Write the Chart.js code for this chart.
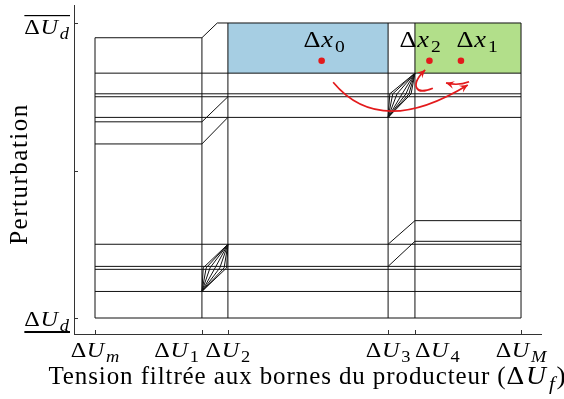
<!DOCTYPE html>
<html>
<head>
<meta charset="utf-8">
<script src="https://cdn.jsdelivr.net/npm/chart.js@4/dist/chart.umd.min.js"></script>
<style>
  body { margin: 0; background: #fff; }
  #wrap { width: 564px; height: 399px; }
</style>
</head>
<body>
<div id="wrap"><canvas id="myChart" width="564" height="399"></canvas></div>
<script>
// voltage axis: dUm = 0 ... dUM = 100
const xTickValues = [0, 25.1, 31.2, 68.8, 75.1, 100];
const xTickSubs = ["m", "1", "2", "3", "4", "M"];
const xTickAlign = ["center", "right", "center", "center", "left", "center"];
// perturbation axis: lower bound 0, upper bound 1
const yTickValues = [0, 0.5, 1];

// horizontal trajectories
const levels     = [0.95, 0.83, 0.76, 0.75, 0.68, 0.665, 0.59, 0.33, 0.26, 0.25, 0.175, 0.165, 0.09, 0, 1];
const levelStart = [0,    0,    0,    0,    0,    0,     0,    75.1, 75.1, 0,    0,     0,     0,    0, 28.7];
const levelEnd   = [25.1, 100,  100,  100,  100,  25.1,  25.1, 100,  100,  100,  100,   100,   100,  100, 100];

// vertical borders of each voltage zone
const vertX   = [0, 25.1, 31.2, 68.8, 75.1, 100];
const vertTop = [0.95, 0.95, 1, 1, 1, 1];

// jumps between zones
const jumpFromX = [25.1, 25.1, 25.1, 68.8, 68.8];
const jumpFromY = [0.95, 0.665, 0.59, 0.25, 0.175];
const jumpToX   = [28.7, 31.2, 31.2, 75.1, 75.1];
const jumpToY   = [1, 0.75, 0.68, 0.33, 0.26];

// bundles of transitions (lens shapes)
const fan1Bottom = [25.1, 0.09];
const fan1Top = [31.2, 0.25];
const fan1MidX = [25.4, 26.1, 27.0, 28.2, 29.3, 30.3, 30.9];
const fan1MidY = 0.17;
const fan2Bottom = [68.8, 0.68];
const fan2Top = [75.1, 0.83];
const fan2MidX = [69.2, 69.9, 70.9, 72.1, 73.0, 73.7, 74.2];
const fan2MidY = 0.76;

// operating zones
const zoneX0 = [31.2, 75.1];
const zoneX1 = [68.8, 100];
const zoneY0 = [0.83, 0.83];
const zoneY1 = [1, 1];
const zoneColors = ["#a6cee3", "#b2df8a"];

// operating points
const pointNames = ["0", "2", "1"];
const pointX = [53.2, 78.5, 85.9];
const pointY = [0.872, 0.872, 0.872];
const pointLabelX = [53.8, 76.3, 89.7];
const pointLabelY = 0.919;

// red arrows (bezier in data units)
const arrowA = [[55.9, 0.799], [66.9, 0.608], [87.5, 0.790]];
const arrowB = [[87.8, 0.801], [85.2, 0.786], [82.4, 0.797]];
const arrowC = [[79.3, 0.779], [75.1, 0.753], [73.9, 0.790], [77.5, 0.841]];

const RED = "#e31a1c";
const SERIF = "'Liberation Serif', 'DejaVu Serif', serif";
const MATH_STRETCH = 1.15;

function seg(points) {
  return {
    data: points.map((p) => ({ x: p[0], y: p[1] })),
    showLine: true,
    borderColor: "#111",
    borderWidth: 1,
    pointRadius: 0,
  };
}

const datasets = [];
levels.forEach((l, i) => datasets.push(seg([[levelStart[i], l], [levelEnd[i], l]])));
vertX.forEach((x, i) => datasets.push(seg([[x, 0], [x, vertTop[i]]])));
jumpFromX.forEach((x, i) => datasets.push(seg([[x, jumpFromY[i]], [jumpToX[i], jumpToY[i]]])));
fan1MidX.forEach((m) => datasets.push(seg([fan1Bottom, [m, fan1MidY], fan1Top])));
fan2MidX.forEach((m) => datasets.push(seg([fan2Bottom, [m, fan2MidY], fan2Top])));
datasets.push({
  data: pointX.map((x, i) => ({ x: x, y: pointY[i] })),
  pointRadius: 3.3,
  pointBackgroundColor: RED,
  pointBorderWidth: 0,
  showLine: false,
});

function mathFont(p, size) {
  return (p[1] ? "italic " : "") + Math.round(p[2] ? size * 0.74 : size) + "px " + SERIF;
}

function mathWidths(ctx, parts, size, gap, sx) {
  return parts.map((p, i) => {
    ctx.font = mathFont(p, size);
    return (ctx.measureText(p[0]).width + (p[1] && !p[2] ? size * 0.05 : 0)) * sx +
      (i < parts.length - 1 ? size * gap : 0);
  });
}

// text with math parts: [text, italic, subscript]
function drawMath(ctx, parts, x, y, align, size, gap, sx) {
  gap = gap === undefined ? 0.03 : gap;
  sx = sx === undefined ? MATH_STRETCH : sx;
  const widths = mathWidths(ctx, parts, size, gap, sx);
  const total = widths.reduce((a, b) => a + b, 0);
  let cx = align === "center" ? x - total / 2 : align === "right" ? x - total : x;
  const left = cx;
  ctx.textAlign = "left";
  ctx.textBaseline = "alphabetic";
  parts.forEach((p, i) => {
    ctx.font = mathFont(p, size);
    ctx.save();
    ctx.translate(cx, p[2] ? y + size * 0.22 : y);
    ctx.scale(sx, 1);
    ctx.fillText(p[0], 0, 0);
    ctx.restore();
    cx += widths[i];
  });
  return { left: left, right: left + total };
}

function arrowHead(ctx, tipX, tipY, fromX, fromY) {
  const ang = Math.atan2(tipY - fromY, tipX - fromX);
  const len = 9;
  ctx.beginPath();
  ctx.moveTo(tipX, tipY);
  ctx.lineTo(tipX - len * Math.cos(ang - 0.45), tipY - len * Math.sin(ang - 0.45));
  ctx.lineTo(tipX - len * 0.55 * Math.cos(ang), tipY - len * 0.55 * Math.sin(ang));
  ctx.lineTo(tipX - len * Math.cos(ang + 0.45), tipY - len * Math.sin(ang + 0.45));
  ctx.closePath();
  ctx.fill();
}

const diagramPlugin = {
  id: "diagram",
  beforeDatasetsDraw(chart) {
    const { ctx, scales: { x, y } } = chart;
    ctx.save();
    zoneX0.forEach((x0, i) => {
      const px0 = x.getPixelForValue(x0), px1 = x.getPixelForValue(zoneX1[i]);
      const py0 = y.getPixelForValue(zoneY1[i]), py1 = y.getPixelForValue(zoneY0[i]);
      ctx.fillStyle = zoneColors[i];
      ctx.fillRect(px0, py0, px1 - px0, py1 - py0);
    });
    ctx.restore();
  },
  afterDraw(chart) {
    const { ctx, chartArea: area, scales: { x, y } } = chart;
    ctx.save();
    ctx.fillStyle = "#000";
    ctx.strokeStyle = "#333";
    ctx.lineWidth = 1;

    // inward ticks
    xTickValues.forEach((v) => {
      const px = Math.round(x.getPixelForValue(v)) + 0.5;
      ctx.beginPath();
      ctx.moveTo(px, area.bottom);
      ctx.lineTo(px, area.bottom - 4);
      ctx.stroke();
    });
    yTickValues.forEach((v) => {
      const py = Math.round(y.getPixelForValue(v)) + 0.5;
      ctx.beginPath();
      ctx.moveTo(area.left, py);
      ctx.lineTo(area.left + 4, py);
      ctx.stroke();
    });

    // x tick labels
    xTickValues.forEach((v, i) => {
      const px = x.getPixelForValue(v);
      const shift = xTickAlign[i] === "right" ? -3 : 0;
      const italic = isNaN(Number(xTickSubs[i]));
      drawMath(ctx, [["Δ", false, false], ["U", true, false], [xTickSubs[i], italic, true]],
        px + shift, area.bottom + 23, xTickAlign[i], 21);
    });

    // y tick labels: overlined upper bound, underlined lower bound
    const yTop = y.getPixelForValue(1);
    const yBot = y.getPixelForValue(0);
    const dUd = [["Δ", false, false], ["U", true, false], ["d", true, true]];
    let r = drawMath(ctx, dUd, area.left - 5, yTop + 11, "right", 21);
    ctx.fillRect(r.left, yTop - 8, r.right - r.left + 1, 1.2);
    r = drawMath(ctx, dUd, area.left - 5, yBot + 8, "right", 21);
    ctx.fillRect(r.left, yBot + 13, r.right - r.left + 1, 2);

    // point labels
    pointNames.forEach((n, i) => {
      drawMath(ctx, [["Δ", false, false], ["x", true, false], [n, false, true]],
        x.getPixelForValue(pointLabelX[i]), y.getPixelForValue(pointLabelY), "center", 23);
    });

    // arrows
    ctx.strokeStyle = RED;
    ctx.fillStyle = RED;
    ctx.lineWidth = 1.7;
    const P = (p) => [x.getPixelForValue(p[0]), y.getPixelForValue(p[1])];
    [arrowA, arrowB].forEach((a) => {
      const [p0, c, p2] = a.map(P);
      ctx.beginPath();
      ctx.moveTo(p0[0], p0[1]);
      ctx.quadraticCurveTo(c[0], c[1], p2[0], p2[1]);
      ctx.stroke();
      arrowHead(ctx, p2[0], p2[1], c[0], c[1]);
    });
    const [q0, q1, q2, q3] = arrowC.map(P);
    ctx.beginPath();
    ctx.moveTo(q0[0], q0[1]);
    ctx.bezierCurveTo(q1[0], q1[1], q2[0], q2[1], q3[0], q3[1]);
    ctx.stroke();
    arrowHead(ctx, q3[0], q3[1], q2[0], q2[1]);

    // x axis title
    ctx.fillStyle = "#000";
    ctx.letterSpacing = "0.9px";
    ctx.font = "25px " + SERIF;
    const mainTxt = "Tension filtrée aux bornes du producteur (";
    const w1 = ctx.measureText(mainTxt).width;
    const tail = [["Δ", false, false], ["U", true, false], ["f", true, true], [")", false, false]];
    const tailW = mathWidths(ctx, tail, 25, 0.03, 1.1).reduce((a, b) => a + b, 0);
    const startX = (area.left + area.right) / 2 - (w1 + tailW) / 2;
    ctx.font = "25px " + SERIF;
    ctx.textAlign = "left";
    ctx.textBaseline = "alphabetic";
    ctx.fillText(mainTxt, startX, 384);
    drawMath(ctx, tail, startX + w1, 384, "left", 25, 0.03, 1.1);

    // y axis title
    ctx.letterSpacing = "1.5px";
    ctx.translate(27, 174);
    ctx.rotate(-Math.PI / 2);
    ctx.font = "25px " + SERIF;
    ctx.textAlign = "center";
    ctx.fillText("Perturbation", 0, 0);
    ctx.restore();
  },
};

const ctx = document.getElementById("myChart");
const myChart = new Chart(ctx, {
  type: "scatter",
  data: { datasets: datasets },
  options: {
    responsive: false,
    animation: false,
    layout: { padding: { left: 74, right: 23, top: 5, bottom: 65 } },
    plugins: { legend: { display: false }, tooltip: { enabled: false } },
    scales: {
      x: {
        type: "linear",
        min: -4.93,
        max: 104.69,
        ticks: { display: false },
        grid: { display: false, drawTicks: false, tickLength: 0 },
        border: { display: true, color: "#333", width: 1 },
      },
      y: {
        type: "linear",
        min: -0.0542,
        max: 1.061,
        ticks: { display: false },
        grid: { display: false, drawTicks: false, tickLength: 0 },
        border: { display: true, color: "#333", width: 1 },
      },
    },
  },
  plugins: [diagramPlugin],
});
</script>
</body>
</html>
